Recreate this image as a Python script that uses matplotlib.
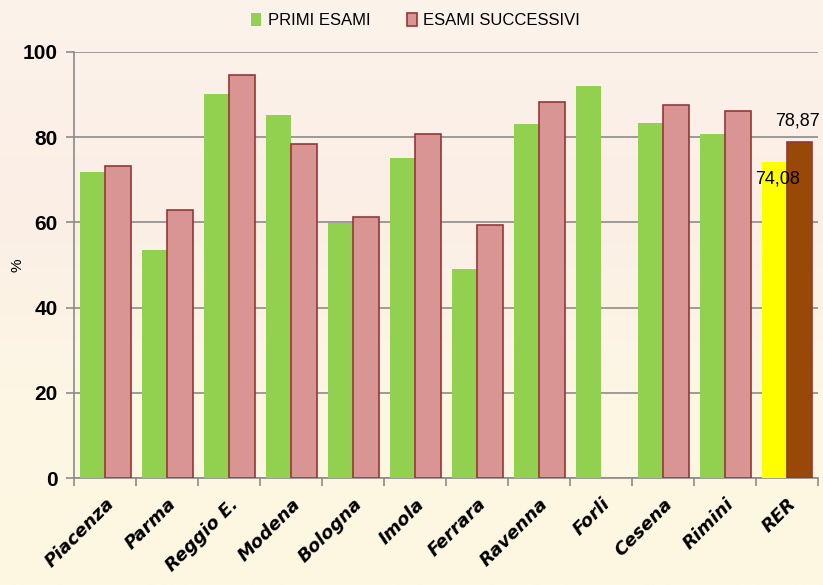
import numpy as np
import matplotlib.pyplot as plt
from matplotlib.colors import LinearSegmentedColormap

# dati
citta = ["Piacenza", "Parma", "Reggio E.", "Modena", "Bologna", "Imola",
         "Ferrara", "Ravenna", "Forli", "Cesena", "Rimini", "RER"]
primi = [71.9, 53.5, 90.2, 85.1, 59.8, 75.2, 49.1, 83.0, 92.0, 83.3, 80.7, 74.08]
successivi = [73.2, 63.0, 94.5, 78.4, 61.2, 80.6, 59.3, 88.3, np.nan, 87.6, 86.1, 78.87]

fig = plt.figure(figsize=(8.23, 5.85), dpi=100)

# sfondo sfumato
bg = fig.add_axes([0, 0, 1, 1], zorder=-10)
cmap = LinearSegmentedColormap.from_list("bg", ["#FCF3EA", "#FBEEE6", "#FDF6E4", "#FEF8E2"])
bg.imshow(np.linspace(0, 1, 256).reshape(-1, 1), aspect="auto", cmap=cmap,
          extent=[0, 1, 0, 1])
bg.axis("off")

ax = fig.add_axes([0.0905, 0.1824, 0.9035, 0.7292])
ax.patch.set_alpha(0)

x = np.arange(len(citta))
w = 0.41
col_p = ["#92D050"] * 11 + ["#FFFF00"]
col_s = ["#D99594"] * 11 + ["#984807"]
edge_s = ["#953735"] * 11 + ["#953735"]

ax.bar(x - w / 2, primi, w, color=col_p, zorder=3, label="PRIMI ESAMI")
ax.bar(x + w / 2, successivi, w, color=col_s, edgecolor=edge_s, linewidth=1.2,
       zorder=3, label="ESAMI SUCCESSIVI")

ax.set_xlim(-0.5, len(citta) - 0.5)
ax.set_ylim(0, 100)
ax.set_yticks(range(0, 101, 20))
ax.yaxis.grid(True, color="#8C8C8C", linewidth=1.2, zorder=0)

for s in ["top", "right"]:
    ax.spines[s].set_visible(False)
for s in ["left", "bottom"]:
    ax.spines[s].set_color("#8C8C8C")
    ax.spines[s].set_linewidth(1.2)

ax.tick_params(axis="y", length=6, color="#8C8C8C", width=1.2, pad=6)
for t in ax.get_yticklabels():
    t.set_fontfamily("Liberation Sans")
    t.set_fontweight("bold")
    t.set_fontsize(15)

ax.set_xticks(x)
ax.set_xticks(np.arange(-0.5, len(citta)), minor=True)
ax.tick_params(axis="x", which="major", length=0, pad=12)
ax.tick_params(axis="x", which="minor", length=6, color="#8C8C8C", width=1.2)
ax.set_xticklabels(citta, rotation=45, ha="right", rotation_mode="anchor",
                   fontsize=13, fontweight="bold", fontstyle="italic",
                   fontfamily="DejaVu Sans")

ax.set_ylabel("%", fontsize=11, fontfamily="Liberation Sans", va="center")
ax.yaxis.set_label_coords(-0.076, 0.5)

# etichette RER
ax.annotate("78,87", (x[-1] + w / 2, successivi[-1]), xytext=(-2, 9),
            textcoords="offset points", ha="center", va="bottom",
            fontsize=13, fontfamily="Liberation Sans")
ax.annotate("74,08", (x[-1] - w / 2, primi[-1]), xytext=(2, -6),
            textcoords="offset points", ha="center", va="top",
            fontsize=13, fontfamily="Liberation Sans")

leg = fig.legend(loc="upper center", bbox_to_anchor=(0.505, 1.004), ncol=2,
                 frameon=False, handlelength=0.6, handleheight=0.9,
                 columnspacing=2.2, handletextpad=0.4,
                 prop={"family": "Liberation Sans", "size": 12})

fig.savefig("out.png", dpi=100)
